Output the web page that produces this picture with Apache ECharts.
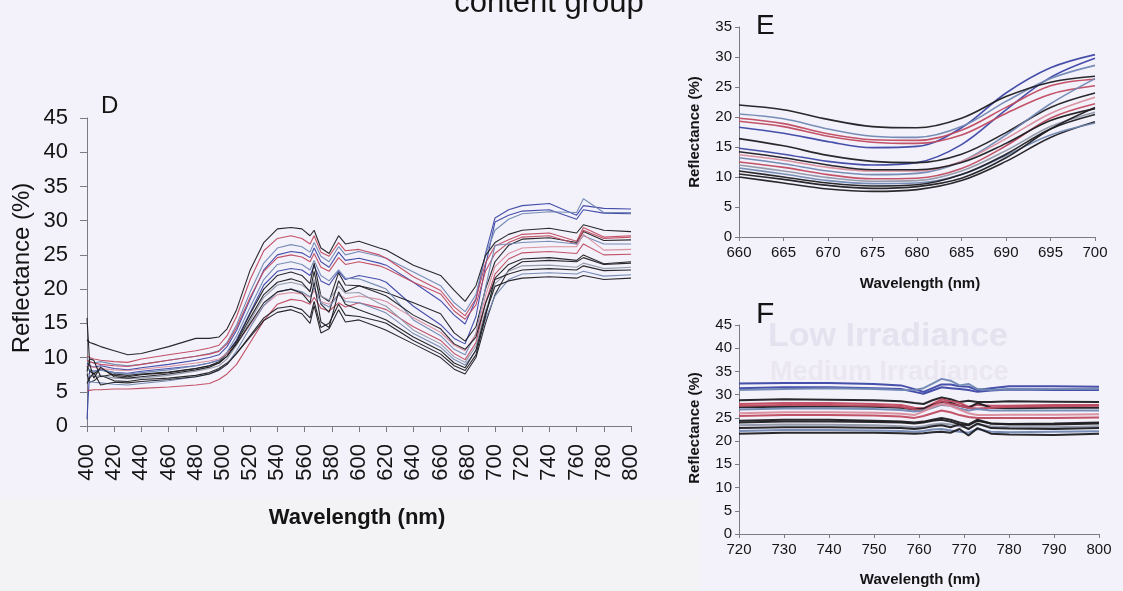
<!DOCTYPE html>
<html>
<head>
<meta charset="utf-8">
<script src="https://cdn.jsdelivr.net/npm/echarts@6/dist/echarts.min.js"></script>
<style>
  html, body { margin: 0; padding: 0; background: #f3f1f9; }
  #chart { width: 1123px; height: 591px; }
</style>
</head>
<body>
<div id="chart"></div>
<script>
// Wavelength grids (nm) for the three panels
const wavelengthsD = [400, 402, 405, 410, 420, 430, 440, 460, 480, 490, 497, 503, 510, 520, 530, 540, 550, 558, 564, 567, 572, 578, 585, 590, 600, 615, 620, 640, 660, 670, 678, 686, 693, 700, 710, 720, 740, 760, 765, 780, 800];
const wavelengthsE = [660, 665, 670, 675, 680, 685, 690, 695, 700];
const wavelengthsF = [720, 730, 740, 750, 756, 759, 761, 763, 765, 767, 769, 771, 773, 776, 780, 790, 800];

// Colour group of each leaf spectrum
const lineGroups = ['blue', 'blue', 'steel', 'black', 'red', 'black', 'red', 'steel', 'pink', 'red', 'black', 'gray', 'black', 'steel', 'black', 'black'];
const groupColors = { black: '#1d1d22', red: '#c04a60', pink: '#d98c9c', blue: '#3c47a6', steel: '#7087b3', gray: '#8f97a9' };

// Panel D: full spectra 400-800 nm, reflectance (%)
const reflectanceD = [
  [9.2, 8.8, 8.6, 8.8, 8.4, 8.2, 8.5, 9.0, 9.6, 10.0, 10.4, 11.6, 14.0, 18.5, 22.8, 25.0, 25.5, 25.3, 24.6, 26.0, 24.0, 23.2, 25.4, 24.2, 24.5, 23.8, 23.5, 21.0, 18.3, 16.2, 14.9, 18.5, 25.2, 30.4, 31.6, 32.2, 32.5, 30.8, 32.2, 31.8, 31.7],
  [1.0, 8.2, 8.0, 8.2, 7.8, 7.7, 8.0, 8.4, 8.8, 9.2, 9.6, 10.6, 12.6, 16.6, 20.6, 22.6, 23.0, 22.8, 22.0, 23.4, 21.2, 20.6, 22.6, 21.4, 22.0, 21.4, 21.0, 17.5, 14.8, 12.8, 12.0, 16.0, 23.4, 29.8, 30.8, 31.4, 31.6, 30.2, 31.6, 31.1, 31.0],
  [9.8, 9.4, 9.2, 9.4, 9.0, 8.8, 9.0, 9.6, 10.2, 10.6, 11.0, 12.2, 14.8, 19.6, 23.8, 26.0, 26.5, 26.2, 25.4, 26.8, 24.8, 24.0, 26.2, 25.0, 25.5, 24.8, 24.5, 22.5, 20.5, 18.0, 16.7, 19.2, 25.0, 28.6, 30.2, 31.0, 31.3, 31.2, 33.2, 31.2, 31.2],
  [12.6, 12.2, 12.0, 11.6, 11.0, 10.4, 10.6, 11.6, 12.8, 12.8, 13.0, 14.2, 17.0, 22.8, 26.8, 28.8, 29.0, 28.8, 27.8, 28.6, 26.0, 25.2, 27.8, 26.6, 27.0, 26.0, 25.7, 23.5, 22.0, 19.8, 18.2, 20.5, 24.9, 26.8, 28.0, 28.6, 28.9, 28.2, 29.4, 28.6, 28.4],
  [10.2, 10.0, 9.8, 9.6, 9.4, 9.3, 9.8, 10.4, 11.0, 11.4, 11.8, 13.2, 16.0, 21.4, 25.6, 27.4, 27.8, 27.4, 26.6, 27.8, 25.4, 24.8, 26.8, 25.6, 25.8, 25.0, 24.5, 21.8, 19.8, 17.4, 16.1, 18.6, 23.8, 26.3, 27.2, 28.0, 28.2, 27.0, 29.0, 27.6, 27.8],
  [8.8, 8.0, 7.6, 8.4, 7.4, 7.2, 7.5, 7.8, 8.4, 8.8, 9.4, 10.6, 12.4, 16.4, 20.0, 22.0, 22.5, 22.0, 20.8, 23.8, 19.0, 18.2, 22.4, 20.6, 20.5, 19.8, 19.5, 18.0, 16.4, 13.6, 12.4, 14.5, 20.0, 24.0, 26.4, 27.3, 27.5, 26.8, 28.4, 27.1, 27.2],
  [9.6, 9.4, 9.2, 9.0, 8.8, 8.7, 9.0, 9.6, 10.2, 10.5, 10.9, 12.0, 14.4, 18.8, 22.6, 24.6, 25.0, 24.7, 24.0, 25.2, 23.2, 22.6, 24.6, 23.6, 24.0, 23.4, 23.0, 21.0, 19.3, 16.8, 15.6, 17.7, 22.6, 25.2, 26.8, 27.6, 27.8, 26.6, 28.6, 27.4, 27.6],
  [8.4, 8.2, 8.0, 8.2, 7.8, 7.6, 7.8, 8.2, 8.8, 9.2, 9.6, 10.8, 13.2, 17.4, 21.4, 23.6, 24.0, 23.6, 22.8, 24.2, 22.0, 21.2, 22.8, 21.6, 21.5, 20.4, 20.0, 15.5, 13.2, 11.2, 10.4, 13.5, 20.2, 26.4, 26.6, 26.8, 27.0, 26.6, 27.8, 26.6, 26.6],
  [8.8, 8.7, 8.6, 8.4, 8.2, 8.1, 8.3, 8.7, 9.2, 9.5, 9.8, 10.6, 12.0, 14.8, 17.6, 19.2, 19.5, 19.3, 18.8, 19.8, 18.2, 17.8, 19.2, 18.6, 19.0, 18.5, 18.2, 15.8, 13.7, 11.8, 11.0, 13.4, 19.0, 23.3, 25.2, 26.0, 26.2, 26.2, 28.0, 25.7, 25.8],
  [5.2, 5.2, 5.3, 5.3, 5.4, 5.4, 5.5, 5.7, 6.0, 6.2, 6.8, 7.6, 9.0, 12.2, 15.4, 17.8, 18.5, 18.3, 17.8, 18.8, 17.2, 16.8, 18.0, 17.4, 18.0, 17.3, 17.0, 14.5, 12.5, 10.6, 9.7, 12.2, 18.0, 22.2, 24.4, 25.3, 25.5, 25.2, 26.6, 25.0, 25.1],
  [7.6, 6.4, 6.6, 7.4, 6.6, 6.5, 6.8, 7.0, 7.4, 7.8, 8.4, 9.2, 10.6, 13.0, 15.4, 16.6, 17.0, 16.4, 15.0, 17.6, 13.6, 14.2, 17.0, 15.2, 15.5, 14.4, 14.0, 12.0, 10.0, 8.3, 7.6, 10.0, 15.0, 19.2, 22.8, 24.0, 24.2, 24.0, 24.6, 23.6, 23.8],
  [7.8, 7.4, 7.2, 7.4, 7.0, 6.9, 7.0, 7.4, 8.0, 8.4, 8.8, 9.8, 11.8, 15.4, 18.8, 20.6, 21.0, 20.6, 19.8, 21.4, 19.0, 18.4, 20.4, 19.4, 19.5, 17.9, 17.5, 14.0, 12.0, 10.1, 9.3, 11.7, 16.8, 20.8, 22.6, 23.4, 23.5, 23.2, 23.8, 23.0, 23.2],
  [15.8, 9.0, 7.0, 8.6, 7.2, 7.0, 7.2, 7.6, 8.2, 8.6, 9.2, 10.2, 12.2, 15.8, 19.2, 21.0, 21.5, 21.0, 19.6, 22.6, 17.8, 16.6, 21.2, 19.6, 20.5, 19.4, 19.0, 16.2, 14.2, 12.0, 11.2, 13.0, 17.9, 21.4, 22.2, 22.8, 23.0, 22.8, 23.4, 22.7, 22.8],
  [6.6, 6.5, 6.4, 6.3, 6.1, 6.0, 6.2, 6.6, 7.2, 7.6, 8.1, 9.0, 11.0, 14.4, 17.6, 19.6, 20.0, 19.6, 18.9, 20.2, 18.0, 17.4, 19.2, 18.2, 18.0, 16.9, 16.5, 13.5, 11.5, 9.7, 8.9, 11.0, 15.6, 19.0, 21.4, 22.2, 22.4, 22.2, 22.6, 21.9, 22.1],
  [8.0, 9.8, 9.6, 7.2, 7.6, 7.4, 7.6, 7.9, 8.4, 8.8, 9.2, 10.2, 12.0, 15.0, 18.0, 19.6, 20.0, 19.4, 18.0, 21.0, 15.2, 14.4, 19.6, 17.8, 17.0, 15.9, 15.5, 13.0, 11.0, 9.2, 8.5, 11.1, 16.4, 20.4, 21.2, 21.6, 21.8, 21.6, 22.0, 21.4, 21.6],
  [6.2, 7.0, 7.8, 6.0, 6.4, 6.3, 6.5, 6.8, 7.2, 7.6, 8.2, 9.0, 10.6, 13.2, 15.8, 17.2, 17.5, 17.0, 15.8, 18.2, 14.4, 15.0, 17.8, 16.2, 16.0, 15.3, 15.0, 12.5, 10.5, 8.8, 8.1, 10.4, 16.0, 21.6, 23.6, 24.4, 24.6, 24.2, 25.0, 23.7, 24.0]
];

// Panel E: red-edge detail 660-700 nm
const reflectanceE = [
  [18.3, 17.3, 15.9, 14.9, 15.1, 18.2, 24.0, 28.2, 30.4],
  [14.8, 13.8, 12.6, 12.0, 12.4, 15.4, 21.2, 26.6, 29.8],
  [20.5, 19.7, 18.0, 16.8, 16.6, 18.4, 22.6, 26.4, 28.6],
  [22.0, 21.2, 19.6, 18.4, 18.2, 19.8, 23.4, 25.8, 26.8],
  [19.8, 18.9, 17.2, 16.2, 16.1, 17.8, 21.6, 25.2, 26.3],
  [16.4, 15.2, 13.6, 12.6, 12.4, 13.8, 17.4, 21.6, 24.0],
  [19.3, 18.4, 16.8, 15.8, 15.6, 17.0, 20.6, 23.8, 25.2],
  [13.2, 12.2, 11.0, 10.4, 10.6, 12.6, 17.0, 22.2, 26.4],
  [13.7, 12.8, 11.6, 11.0, 11.0, 12.6, 16.4, 20.6, 23.3],
  [12.5, 11.6, 10.4, 9.7, 9.8, 11.4, 15.2, 19.8, 22.2],
  [10.0, 9.0, 8.0, 7.6, 7.9, 9.4, 12.6, 16.6, 19.2],
  [12.0, 11.0, 9.9, 9.3, 9.4, 11.0, 14.4, 18.4, 20.8],
  [14.2, 13.2, 12.0, 11.2, 11.2, 12.4, 15.6, 19.4, 21.4],
  [11.5, 10.5, 9.4, 8.9, 9.0, 10.4, 13.6, 17.0, 19.0],
  [11.0, 10.0, 9.0, 8.5, 8.7, 10.4, 13.8, 18.0, 20.4],
  [10.5, 9.6, 8.6, 8.1, 8.4, 9.8, 13.2, 18.0, 21.6]
];

// Panel F: near-infrared plateau 720-800 nm
const reflectanceF = [
  [32.4, 32.5, 32.5, 32.3, 32.0, 31.2, 30.6, 31.4, 32.2, 32.2, 31.8, 31.7, 31.0, 31.4, 31.8, 31.8, 31.7],
  [31.4, 31.6, 31.6, 31.4, 31.2, 30.6, 30.2, 30.9, 31.6, 31.4, 31.2, 31.0, 30.6, 30.9, 31.1, 31.0, 31.0],
  [31.0, 31.2, 31.4, 31.2, 31.0, 31.0, 31.4, 32.4, 33.4, 33.0, 32.0, 32.3, 31.2, 31.0, 31.2, 31.2, 31.2],
  [28.8, 29.0, 28.9, 28.8, 28.6, 28.2, 28.0, 28.8, 29.4, 29.0, 28.4, 28.7, 28.4, 28.4, 28.6, 28.5, 28.4],
  [28.0, 28.2, 28.2, 28.0, 27.8, 27.2, 27.0, 28.0, 29.0, 28.6, 28.2, 27.4, 27.8, 27.6, 27.6, 27.8, 27.8],
  [27.3, 27.4, 27.5, 27.4, 27.2, 26.8, 27.0, 27.8, 28.4, 28.2, 27.6, 27.2, 28.2, 27.2, 27.1, 27.2, 27.2],
  [27.6, 27.8, 27.8, 27.6, 27.4, 26.8, 26.6, 27.6, 28.6, 28.0, 27.6, 27.2, 27.0, 27.2, 27.4, 27.5, 27.6],
  [26.8, 27.0, 27.0, 26.9, 26.7, 26.4, 26.6, 27.2, 27.8, 27.6, 27.0, 26.6, 26.9, 26.6, 26.6, 26.6, 26.6],
  [26.0, 26.2, 26.2, 26.1, 25.9, 25.6, 26.4, 27.4, 28.0, 27.6, 26.8, 26.0, 25.6, 25.6, 25.7, 25.7, 25.8],
  [25.4, 25.6, 25.6, 25.5, 25.3, 25.0, 25.4, 26.0, 26.6, 26.2, 25.6, 25.2, 25.0, 25.0, 25.0, 25.0, 25.1],
  [24.0, 24.2, 24.2, 24.1, 24.0, 23.8, 24.0, 24.4, 24.6, 24.2, 23.6, 23.4, 24.4, 23.8, 23.6, 23.6, 23.8],
  [23.4, 23.6, 23.5, 23.4, 23.2, 23.0, 23.2, 23.6, 23.8, 23.6, 23.2, 22.8, 23.6, 23.2, 23.0, 23.0, 23.2],
  [22.8, 23.0, 23.0, 22.9, 22.8, 22.6, 22.8, 23.2, 23.4, 23.0, 23.6, 22.6, 23.8, 22.8, 22.7, 22.6, 22.8],
  [22.2, 22.4, 22.4, 22.3, 22.2, 22.0, 22.2, 22.5, 22.6, 22.3, 22.0, 21.8, 22.6, 22.0, 21.9, 22.0, 22.1],
  [21.6, 21.8, 21.8, 21.8, 21.7, 21.6, 21.7, 21.9, 22.0, 21.8, 22.6, 21.2, 22.8, 21.6, 21.4, 21.3, 21.6],
  [24.4, 24.6, 24.6, 24.4, 24.2, 24.0, 24.2, 24.6, 25.0, 24.6, 24.0, 23.6, 24.6, 23.8, 23.7, 23.8, 24.0]
];

// Axis ranges and tick steps
const axisD = { xMin: 400, xMax: 800, xStep: 20, yMin: 0, yMax: 45, yStep: 5 };
const axisE = { xMin: 660, xMax: 700, xStep: 5, yMin: 0, yMax: 35, yStep: 5 };
const axisF = { xMin: 720, xMax: 800, xStep: 10, yMin: 0, yMax: 45, yStep: 5 };

const FONT = '"Liberation Sans", Arial, sans-serif';
const AXIS_COLOR = '#7b7b84';
const TEXT_COLOR = '#141414';

function valueAxis(gridIndex, min, max, step, labelSize, margin, tickLen, rotate) {
  return {
    gridIndex, type: 'value', min, max, interval: step,
    axisLine: { show: true, onZero: false, lineStyle: { color: AXIS_COLOR, width: 1 } },
    axisTick: { show: true, length: tickLen, lineStyle: { color: AXIS_COLOR, width: 1 } },
    axisLabel: { show: true, fontSize: labelSize, fontFamily: FONT, color: TEXT_COLOR, margin, rotate: rotate || 0 },
    splitLine: { show: false }
  };
}

function buildSeries(rows, wavelengths, axisIndex, width, smooth) {
  return rows.map((row, i) => ({
    type: 'line',
    xAxisIndex: axisIndex, yAxisIndex: axisIndex,
    data: wavelengths.map((w, j) => [w, row[j]]),
    showSymbol: false, symbol: 'none',
    smooth: smooth,
    silent: true,
    lineStyle: { color: groupColors[lineGroups[i]], width: width, opacity: 0.95 }
  }));
}

const chart = echarts.init(document.getElementById('chart'), null, { renderer: 'canvas' });

const option = {
  backgroundColor: '#f3f1f9',
  animation: false,
  grid: [
    { left: 87, top: 118, width: 544, height: 308, outerBoundsMode: 'none' },
    { left: 739, top: 27, width: 356, height: 210, outerBoundsMode: 'none' },
    { left: 739, top: 325, width: 360, height: 209, outerBoundsMode: 'none' }
  ],
  xAxis: [
    valueAxis(0, axisD.xMin, axisD.xMax, axisD.xStep, 22, 18, 6, 90),
    valueAxis(1, axisE.xMin, axisE.xMax, axisE.xStep, 15, 8, 4),
    valueAxis(2, axisF.xMin, axisF.xMax, axisF.xStep, 15, 8, 4)
  ],
  yAxis: [
    valueAxis(0, axisD.yMin, axisD.yMax, axisD.yStep, 22, 19, 7),
    valueAxis(1, axisE.yMin, axisE.yMax, axisE.yStep, 15, 7, 4),
    valueAxis(2, axisF.yMin, axisF.yMax, axisF.yStep, 15, 7, 4)
  ],
  series: [].concat(
    buildSeries(reflectanceD, wavelengthsD, 0, 1.1, false),
    buildSeries(reflectanceE, wavelengthsE, 1, 1.6, 0.35),
    buildSeries(reflectanceF, wavelengthsF, 2, 2.0, false)
  ),
  graphic: [
    // lighter strip along the lower left edge of the page
    { type: 'rect', z: -10, silent: true, shape: { x: 0, y: 497, width: 700, height: 94 }, style: { fill: '#f3f3f5' } },
    // faint print from the facing page
    { type: 'text', z: -5, silent: true, x: 768, y: 337, style: { text: 'Low Irradiance', font: 'bold 34px ' + FONT, fill: '#e5e2ef', verticalAlign: 'middle' } },
    { type: 'text', z: -5, silent: true, x: 770, y: 373, style: { text: 'Medium Irradiance', font: 'bold 27px ' + FONT, fill: '#eae7f3', verticalAlign: 'middle' } },
    // group heading
    { type: 'text', silent: true, x: 549, y: 19, style: { text: 'content group', font: '31px ' + FONT, fill: TEXT_COLOR, align: 'center', verticalAlign: 'bottom' } },
    // panel letters
    { type: 'text', silent: true, x: 101, y: 106, style: { text: 'D', font: '24px ' + FONT, fill: TEXT_COLOR, verticalAlign: 'middle' } },
    { type: 'text', silent: true, x: 756, y: 26, style: { text: 'E', font: '28px ' + FONT, fill: TEXT_COLOR, verticalAlign: 'middle' } },
    { type: 'text', silent: true, x: 756, y: 315, style: { text: 'F', font: '30px ' + FONT, fill: TEXT_COLOR, verticalAlign: 'middle' } },
    // axis titles, panel D
    { type: 'text', silent: true, x: 22, y: 268, rotation: Math.PI / 2, style: { text: 'Reflectance (%)', font: '24px ' + FONT, fill: TEXT_COLOR, align: 'center', verticalAlign: 'middle' } },
    { type: 'text', silent: true, x: 357, y: 518, style: { text: 'Wavelength (nm)', font: 'bold 22px ' + FONT, fill: TEXT_COLOR, align: 'center', verticalAlign: 'middle' } },
    // axis titles, panel E
    { type: 'text', silent: true, x: 695, y: 132, rotation: Math.PI / 2, style: { text: 'Reflectance (%)', font: 'bold 15px ' + FONT, fill: TEXT_COLOR, align: 'center', verticalAlign: 'middle' } },
    { type: 'text', silent: true, x: 920, y: 284, style: { text: 'Wavelength (nm)', font: 'bold 15px ' + FONT, fill: TEXT_COLOR, align: 'center', verticalAlign: 'middle' } },
    // axis titles, panel F
    { type: 'text', silent: true, x: 695, y: 428, rotation: Math.PI / 2, style: { text: 'Reflectance (%)', font: 'bold 15px ' + FONT, fill: TEXT_COLOR, align: 'center', verticalAlign: 'middle' } },
    { type: 'text', silent: true, x: 920, y: 580, style: { text: 'Wavelength (nm)', font: 'bold 15px ' + FONT, fill: TEXT_COLOR, align: 'center', verticalAlign: 'middle' } }
  ]
};

chart.setOption(option);
</script>
</body>
</html>
